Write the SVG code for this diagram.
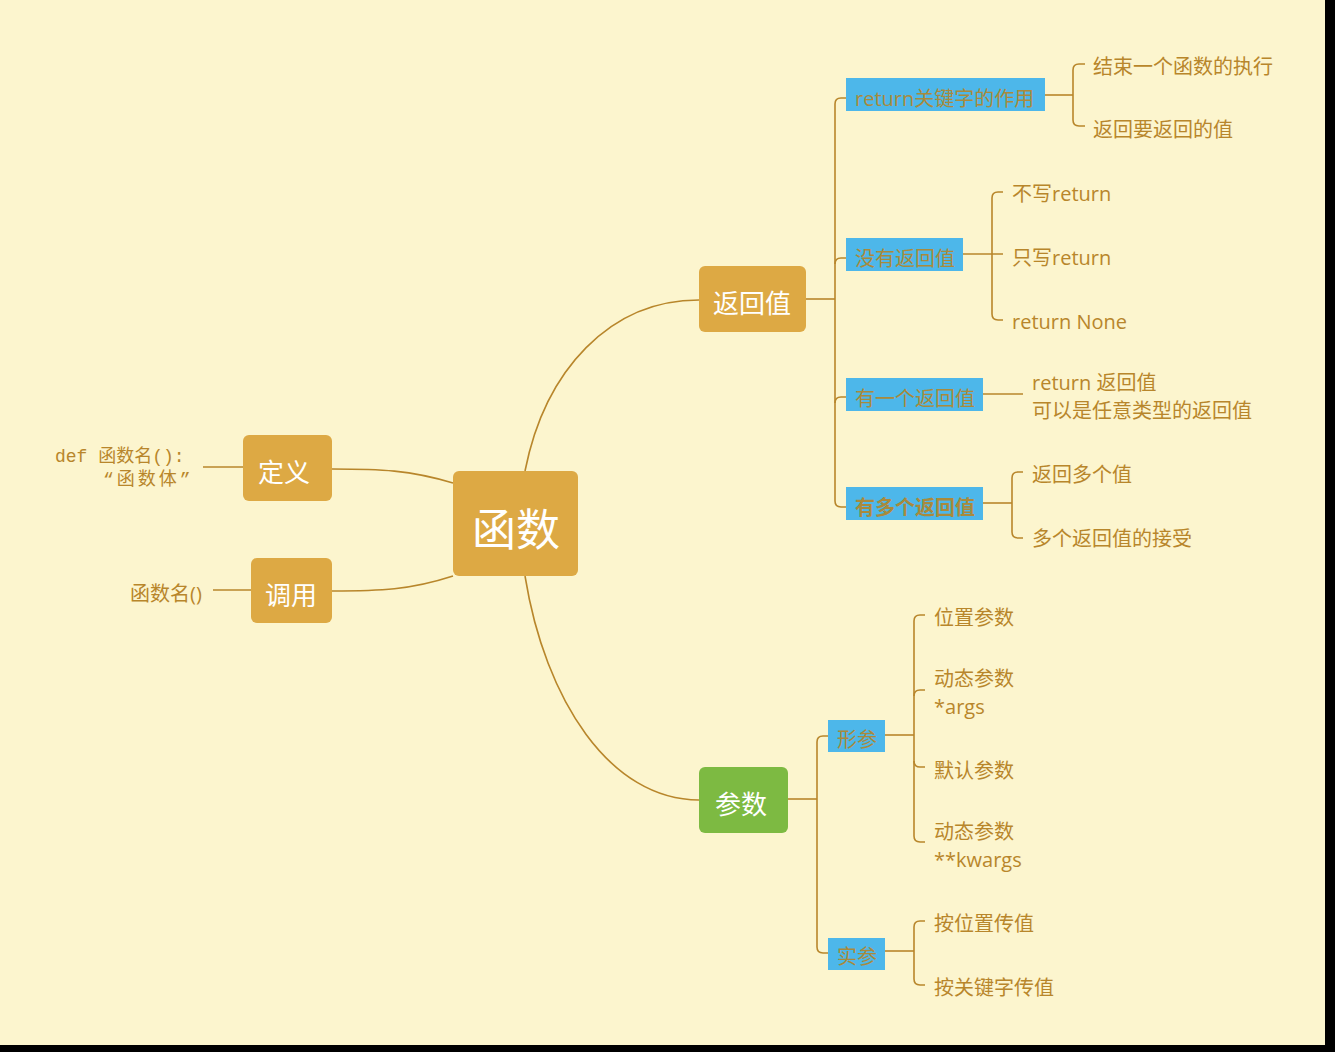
<svg xmlns="http://www.w3.org/2000/svg" width="1335" height="1052" viewBox="0 0 1335 1052">
<style>
.bg{fill:#FCF5CE}
.main{fill:#DDA944}
.green{fill:#7DBA42}
.blue{fill:#4DB7EA}
.ntext{fill:#FFFFFF;font-family:"Noto Sans CJK SC","Noto Sans",sans-serif;dominant-baseline:central;text-anchor:middle}
.leaf{fill:#B8862B;font-family:"Open Sans","Noto Sans CJK SC",sans-serif;font-size:20px;dominant-baseline:central}
.btext{fill:#A98A3C;font-family:"Open Sans","Noto Sans CJK SC",sans-serif;font-size:20px;dominant-baseline:central}
.mono{fill:#B8862B;font-family:"Liberation Mono","Noto Sans CJK SC",monospace;font-size:18px;dominant-baseline:central}
.conn path{fill:none;stroke:#B8862B;stroke-width:1.6}
</style>
<rect x="0" y="0" width="1335" height="1052" fill="#000000"/>
<rect class="bg" x="0" y="0" width="1325" height="1045"/>

<g id="connectors" class="conn">
<path d="M453,483 C410,470 380,469 332,469"/>
<path d="M453,576 C410,590 380,591 332,591"/>
<path d="M525,471 C545,370 610,300 699,300"/>
<path d="M525,576 C545,700 610,800 699,800"/>
<path d="M203,467 H243"/>
<path d="M213,590 H251"/>
<path d="M806,299 H835"/>
<path d="M846,98 H841 Q835,98 835,104 V501 Q835,507 841,507 H846"/>
<path d="M835,264 Q835,258 841,258 H846"/>
<path d="M835,403 Q835,397 841,397 H846"/>
<path d="M1045,95 H1073"/>
<path d="M1085,64 H1079 Q1073,64 1073,70 V120 Q1073,126 1079,126 H1085"/>
<path d="M963,254 H1003"/>
<path d="M1003,192 H998 Q992,192 992,198 V314 Q992,320 998,320 H1003"/>
<path d="M983,394 H1023"/>
<path d="M983,503 H1012"/>
<path d="M1023,472 H1018 Q1012,472 1012,478 V532 Q1012,538 1018,538 H1023"/>
<path d="M788,799 H817"/>
<path d="M828,736 H823 Q817,736 817,742 V947 Q817,953 823,953 H828"/>
<path d="M885,735 H914"/>
<path d="M925,615 H920 Q914,615 914,621 V836 Q914,842 920,842 H925"/>
<path d="M914,696 Q914,690 920,690 H925"/>
<path d="M914,761 Q914,767 920,767 H925"/>
<path d="M885,951 H914"/>
<path d="M925,921 H920 Q914,921 914,927 V979 Q914,985 920,985 H925"/>
</g>

<g id="node-root">
<rect class="main" x="453" y="471" width="125" height="105" rx="6"/>
<text class="ntext" x="516" y="527" font-size="44">函数</text>
</g>
<g id="node-def">
<rect class="main" x="243" y="435" width="89" height="66" rx="6"/>
<text class="ntext" x="284" y="470" font-size="26">定义</text>
</g>
<g id="node-def-text">
<text class="mono" x="55" y="457">def 函数名():</text>
<text class="mono" x="103" y="480" letter-spacing="3">“函数体”</text>
</g>
<g id="node-call">
<rect class="main" x="251" y="558" width="81" height="65" rx="6"/>
<text class="ntext" x="291" y="593" font-size="26">调用</text>
</g>
<g id="node-call-text">
<text class="leaf" x="130" y="593">函数名()</text>
</g>
<g id="node-return">
<rect class="main" x="699" y="266" width="107" height="66" rx="6"/>
<text class="ntext" x="752" y="301" font-size="26">返回值</text>
</g>
<g id="node-params">
<rect class="green" x="699" y="767" width="89" height="66" rx="6"/>
<text class="ntext" x="741" y="802" font-size="26">参数</text>
</g>

<g id="node-r1">
<rect class="blue" x="846" y="78" width="199" height="33"/>
<text class="btext" x="855" y="98">return关键字的作用</text>
</g>
<g id="node-r1a"><text class="leaf" x="1093" y="66">结束一个函数的执行</text></g>
<g id="node-r1b"><text class="leaf" x="1093" y="129">返回要返回的值</text></g>

<g id="node-r2">
<rect class="blue" x="846" y="238" width="117" height="33"/>
<text class="btext" x="855" y="258">没有返回值</text>
</g>
<g id="node-r2a"><text class="leaf" x="1012" y="193">不写return</text></g>
<g id="node-r2b"><text class="leaf" x="1012" y="257">只写return</text></g>
<g id="node-r2c"><text class="leaf" x="1012" y="321">return None</text></g>

<g id="node-r3">
<rect class="blue" x="846" y="378" width="137" height="33"/>
<text class="btext" x="855" y="398">有一个返回值</text>
</g>
<g id="node-r3a">
<text class="leaf" x="1032" y="382">return 返回值</text>
<text class="leaf" x="1032" y="410">可以是任意类型的返回值</text>
</g>

<g id="node-r4">
<rect class="blue" x="846" y="487" width="137" height="33"/>
<text class="btext" x="855" y="507" font-weight="bold">有多个返回值</text>
</g>
<g id="node-r4a"><text class="leaf" x="1032" y="474">返回多个值</text></g>
<g id="node-r4b"><text class="leaf" x="1032" y="538">多个返回值的接受</text></g>

<g id="node-p1">
<rect class="blue" x="828" y="720" width="57" height="32"/>
<text class="btext" x="837" y="739">形参</text>
</g>
<g id="node-p1a"><text class="leaf" x="934" y="617">位置参数</text></g>
<g id="node-p1b">
<text class="leaf" x="934" y="678">动态参数</text>
<text class="leaf" x="934" y="706">*args</text>
</g>
<g id="node-p1c"><text class="leaf" x="934" y="770">默认参数</text></g>
<g id="node-p1d">
<text class="leaf" x="934" y="831">动态参数</text>
<text class="leaf" x="934" y="859">**kwargs</text>
</g>

<g id="node-p2">
<rect class="blue" x="828" y="938" width="57" height="32"/>
<text class="btext" x="837" y="956">实参</text>
</g>
<g id="node-p2a"><text class="leaf" x="934" y="923">按位置传值</text></g>
<g id="node-p2b"><text class="leaf" x="934" y="987">按关键字传值</text></g>
</svg>
